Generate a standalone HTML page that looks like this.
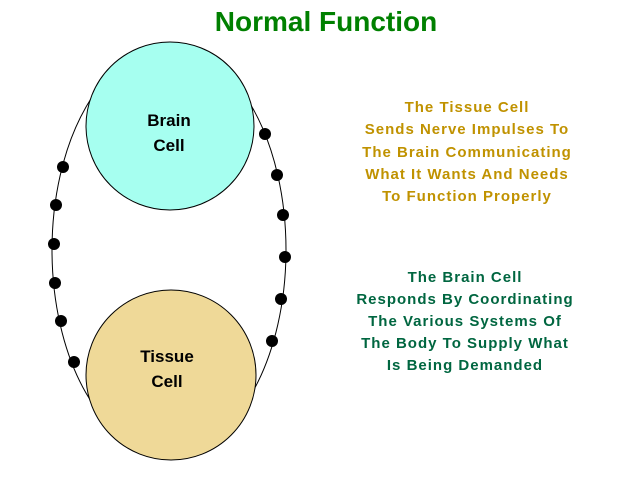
<!DOCTYPE html>
<html><head><style>
body{margin:0;background:#fff;width:640px;height:480px;overflow:hidden;font-family:"Liberation Sans",sans-serif;}
</style></head><body>
<svg width="640" height="480" viewBox="0 0 640 480" xmlns="http://www.w3.org/2000/svg" font-family="Liberation Sans, sans-serif" font-weight="bold">
<text x="326" y="31" text-anchor="middle" font-size="28" fill="#008000">Normal Function</text>
<ellipse cx="169" cy="250" rx="117" ry="203" fill="none" stroke="#000" stroke-width="1"/>
<circle cx="170" cy="126" r="84" fill="#a6fff0" stroke="#000" stroke-width="1"/>
<circle cx="171" cy="375" r="85" fill="#efd998" stroke="#000" stroke-width="1"/>
<text x="169" y="126" text-anchor="middle" font-size="17" fill="#000">Brain</text>
<text x="169" y="151" text-anchor="middle" font-size="17" fill="#000">Cell</text>
<text x="167" y="362" text-anchor="middle" font-size="17" fill="#000">Tissue</text>
<text x="167" y="387" text-anchor="middle" font-size="17" fill="#000">Cell</text>
<g fill="#000">
<circle cx="63" cy="167" r="6"/><circle cx="56" cy="205" r="6"/><circle cx="54" cy="244" r="6"/>
<circle cx="55" cy="283" r="6"/><circle cx="61" cy="321" r="6"/><circle cx="74" cy="362" r="6"/>
<circle cx="265" cy="134" r="6"/><circle cx="277" cy="175" r="6"/><circle cx="283" cy="215" r="6"/>
<circle cx="285" cy="257" r="6"/><circle cx="281" cy="299" r="6"/><circle cx="272" cy="341" r="6"/>
</g>
<g font-size="15" text-anchor="middle" fill="#c09200" letter-spacing="1">
<text x="467" y="112">The Tissue Cell</text>
<text x="467" y="134">Sends Nerve Impulses To</text>
<text x="467" y="157">The Brain Communicating</text>
<text x="467" y="179">What It Wants And Needs</text>
<text x="467" y="201">To Function Properly</text>
</g>
<g font-size="15" text-anchor="middle" fill="#006640" letter-spacing="1">
<text x="465" y="282">The Brain Cell</text>
<text x="465" y="304">Responds By Coordinating</text>
<text x="465" y="326">The Various Systems Of</text>
<text x="465" y="348">The Body To Supply What</text>
<text x="465" y="370">Is Being Demanded</text>
</g>
</svg>
</body></html>
